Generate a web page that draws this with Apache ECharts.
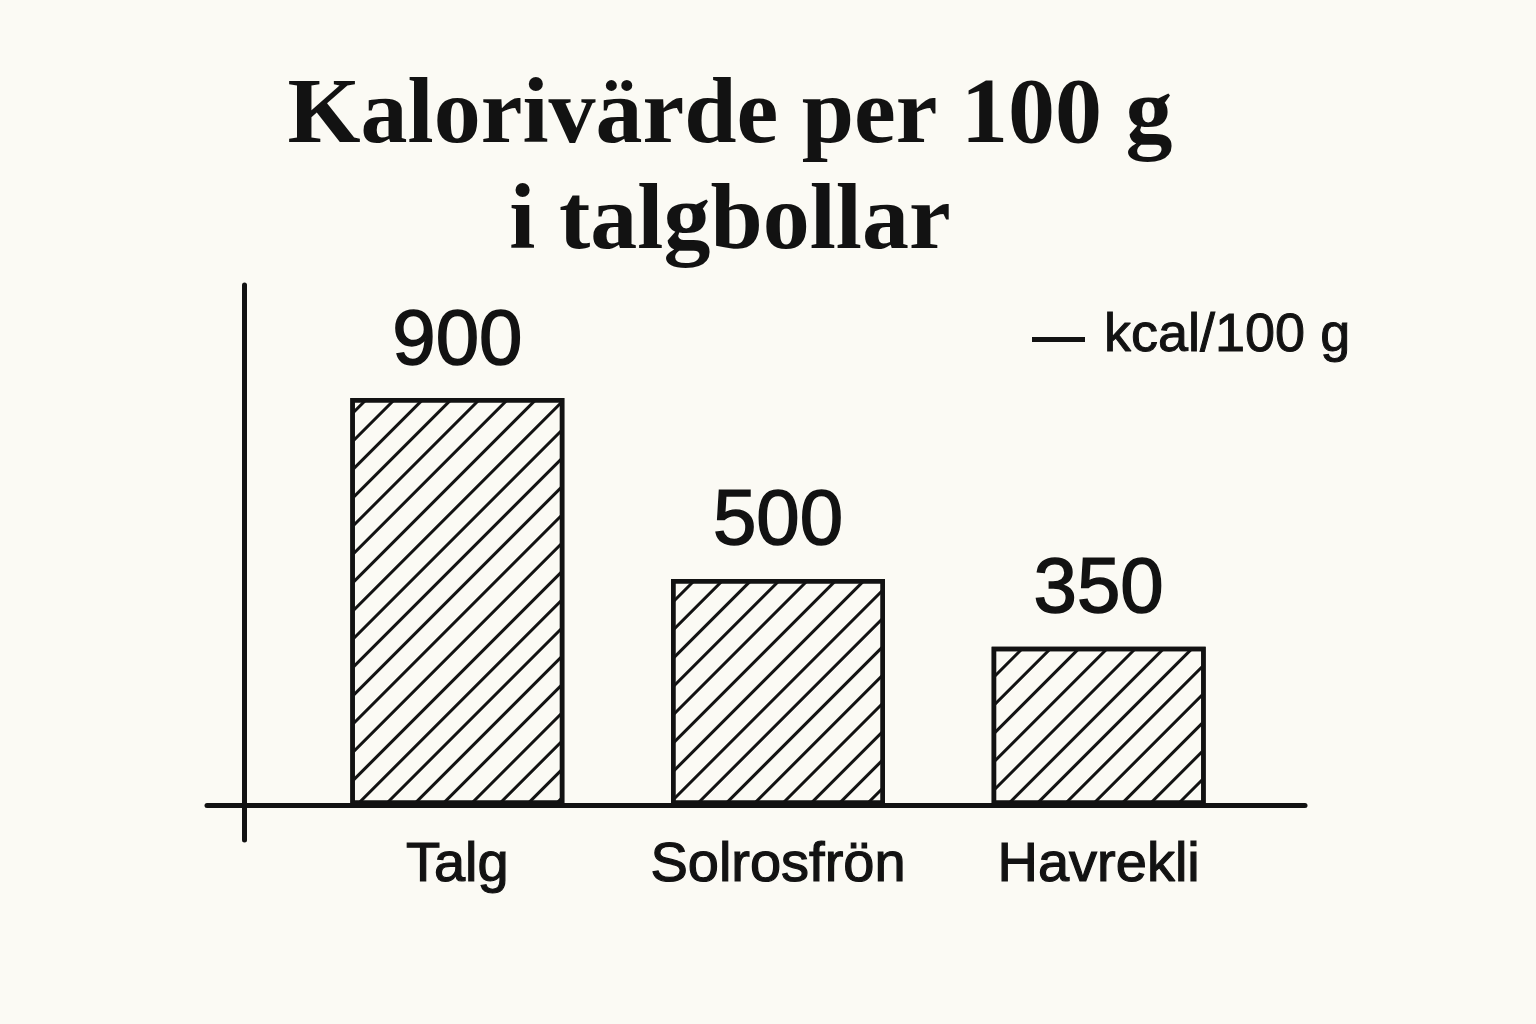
<!DOCTYPE html>
<html>
<head>
<meta charset="utf-8">
<script src="https://cdn.jsdelivr.net/npm/echarts@6/dist/echarts.min.js"></script>
<style>
html,body{margin:0;padding:0;background:#fbfaf4;}
#c{width:1536px;height:1024px;}
</style>
</head>
<body>
<div id="c"></div>
<script>
const titleText = "Kalorivärde per 100 g\ni talgbollar";
const categories = ["Talg", "Solrosfrön", "Havrekli"];
const values = [900, 500, 350];
const seriesName = "kcal/100 g";

const ink = "#121212";
const bg = "#fbfaf4";
const sans = '"Liberation Sans", Arial, sans-serif';

const chart = echarts.init(document.getElementById('c'), null, {renderer: 'canvas'});
chart.setOption({
  backgroundColor: bg,
  animation: false,
  title: {
    text: titleText,
    left: 730,
    top: 65,
    padding: 0,
    textAlign: 'center',
    textStyle: {
      fontFamily: '"Liberation Serif", serif',
      fontWeight: 'bold',
      fontSize: 94,
      lineHeight: 106,
      color: ink
    }
  },
  legend: {
    left: 1032,
    top: 309,
    padding: 0,
    data: [{name: seriesName, icon: 'path://M0,0h0.01v0.01h-0.01z M0,6h53v5h-53z'}],
    itemWidth: 53,
    itemHeight: 11,
    itemStyle: {color: ink, borderWidth: 0, decal: 'none'},
    textStyle: {
      fontFamily: sans,
      fontSize: 54,
      color: ink,
      textBorderColor: ink,
      textBorderWidth: 1,
      padding: [0, 0, 0, 14]
    }
  },
  grid: [
    {left: 297, right: 277, top: 352.8, bottom: 219},
    {left: 207, right: 231, top: 285, bottom: 184}
  ],
  xAxis: [
    {
      type: 'category',
      gridIndex: 0,
      data: categories,
      axisLine: {show: false},
      axisTick: {show: false},
      axisLabel: {
        interval: 0,
        margin: 33,
        fontFamily: sans,
        fontSize: 56,
        color: ink,
        textBorderColor: ink,
        textBorderWidth: 1.2
      }
    },
    {
      type: 'value',
      gridIndex: 1,
      min: 0,
      max: 1,
      axisLine: {show: true, onZero: true, lineStyle: {color: ink, width: 5, cap: 'round'}},
      axisTick: {show: false},
      axisLabel: {show: false},
      splitLine: {show: false}
    }
  ],
  yAxis: [
    {
      type: 'value',
      gridIndex: 0,
      min: 0,
      max: 1000,
      axisLine: {show: false},
      axisTick: {show: false},
      axisLabel: {show: false},
      splitLine: {show: false}
    },
    {
      type: 'value',
      gridIndex: 1,
      min: -35,
      max: 520,
      offset: -37,
      axisLine: {show: true, lineStyle: {color: ink, width: 5, cap: 'round'}},
      axisTick: {show: false},
      axisLabel: {show: false},
      splitLine: {show: false}
    }
  ],
  series: [{
    name: seriesName,
    type: 'bar',
    xAxisIndex: 0,
    yAxisIndex: 0,
    data: values,
    barWidth: 214,
    itemStyle: {
      color: bg,
      borderColor: ink,
      borderWidth: 4.5,
      decal: {
        symbol: 'rect',
        symbolSize: 1,
        color: ink,
        dashArrayX: [1, 0],
        dashArrayY: [3, 17],
        rotation: -Math.PI / 4
      }
    },
    label: {
      show: true,
      position: 'top',
      distance: 17,
      fontFamily: sans,
      fontSize: 78,
      color: ink,
      textBorderColor: ink,
      textBorderWidth: 1.5
    }
  }]
});
</script>
</body>
</html>
